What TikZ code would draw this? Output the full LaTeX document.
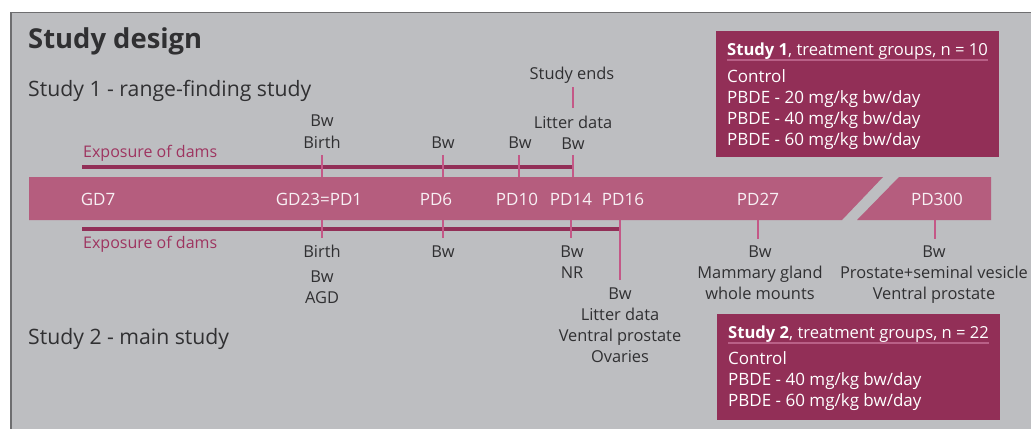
\documentclass[tikz,border=0pt]{standalone}
\usepackage{fontspec}
\setmainfont{Open Sans}
\definecolor{bgcol}{RGB}{189,190,193}
\definecolor{bordercol}{RGB}{110,110,112}
\definecolor{barcol}{RGB}{181,93,126}
\definecolor{darkmag}{RGB}{146,47,87}
\definecolor{tickcol}{RGB}{196,88,135}
\definecolor{txt}{RGB}{48,48,50}
\definecolor{bartxt}{RGB}{248,240,244}
\definecolor{expocol}{RGB}{158,52,96}
\definecolor{ulcol}{RGB}{185,96,135}
\begin{document}
\begin{tikzpicture}[x=1pt,y=-1pt,
  lbl/.style={font=\fontsize{16.4}{20}\selectfont, text=txt, inner sep=0pt, anchor=base},
  barlbl/.style={font=\fontsize{17}{20}\selectfont, text=bartxt, inner sep=0pt, anchor=base},
  boxtxt/.style={font=\fontsize{17}{20}\selectfont, text=white, inner sep=0pt, anchor=base west},
  boxtitle/.style={font=\fontsize{16.6}{20}\selectfont, text=white, inner sep=0pt, anchor=base west},
  expo/.style={font=\fontsize{16}{20}\selectfont, text=expocol, inner sep=0pt, anchor=base west},
  head/.style={font=\fontsize{21.2}{24}\selectfont, text=txt, inner sep=0pt, anchor=base west},
  tickline/.style={draw=tickcol, line width=2pt},
  expline/.style={draw=darkmag, line width=4.5pt},
  ulline/.style={draw=ulcol, line width=1.3pt},
]
\useasboundingbox (0,0) rectangle (1031,429);
\fill[white] (0,0) rectangle (1031,429);
\fill[bgcol] (10,12) rectangle (1031,429);
\draw[bordercol, line width=1.6pt] (1031,12.6) -- (10.6,12.6);
\draw[bordercol, line width=2.2pt] (10.6,12) -- (10.6,429);

% titles
\node[font=\bfseries\fontsize{27.4}{30}\selectfont, text=txt, inner sep=0pt, anchor=base west] (title) at (28,48.5) {Study design};
\node[head] (s1head) at (28,96.5) {Study 1 - range-finding study};
\node[head] (s2head) at (28,344) {Study 2 - main study};

% main time bar
\fill[barcol] (29,177) -- (883,177) -- (842,220) -- (29,220) -- cycle;
\fill[barcol] (899,177) -- (991,177) -- (991,220) -- (857,220) -- cycle;

% exposure lines
\coordinate (eu1) at (82,167); \coordinate (eu2) at (573,167);
\coordinate (el1) at (82,229); \coordinate (el2) at (620,229);
\draw[expline] (eu1) -- (eu2);
\draw[expline] (el1) -- (el2);
\node[expo] (expu) at (83,157) {Exposure of dams};
\node[expo] (expl) at (83,248) {Exposure of dams};

% bar labels
\node[barlbl] (gd7) at (98,205) {GD7};
\node[barlbl] (gd23) at (319,205) {GD23=PD1};
\node[barlbl] (pd6) at (436,205) {PD6};
\node[barlbl] (pd10) at (517,205) {PD10};
\node[barlbl] (pd14) at (571,205) {PD14};
\node[barlbl] (pd16) at (623,205) {PD16};
\node[barlbl] (pd27) at (758,205) {PD27};
\node[barlbl] (pd300) at (937,205) {PD300};

% upper ticks
\coordinate (u1a) at (322,155); \coordinate (u1b) at (322,177);
\coordinate (u2a) at (443,155); \coordinate (u2b) at (443,177);
\coordinate (u3a) at (519,155); \coordinate (u3b) at (519,177);
\coordinate (u4a) at (573,155); \coordinate (u4b) at (573,177);
\draw[tickline] (u1a) -- (u1b);
\draw[tickline] (u2a) -- (u2b);
\draw[tickline] (u3a) -- (u3b);
\draw[tickline] (u4a) -- (u4b);
\coordinate (se1) at (573,87); \coordinate (se2) at (573,108);
\draw[tickline] (se1) -- (se2);

% lower ticks
\coordinate (l1a) at (322,220); \coordinate (l1b) at (322,238);
\coordinate (l2a) at (443,220); \coordinate (l2b) at (443,238);
\coordinate (l3a) at (571,220); \coordinate (l3b) at (571,238);
\coordinate (l4a) at (620,220); \coordinate (l4b) at (620,280);
\coordinate (l5a) at (758,220); \coordinate (l5b) at (758,239);
\coordinate (l6a) at (935,220); \coordinate (l6b) at (935,239);
\draw[tickline] (l1a) -- (l1b);
\draw[tickline] (l2a) -- (l2b);
\draw[tickline] (l3a) -- (l3b);
\draw[tickline] (l4a) -- (l4b);
\draw[tickline] (l5a) -- (l5b);
\draw[tickline] (l6a) -- (l6b);

% upper labels
\node[lbl] (ubw1) at (322,126) {Bw};
\node[lbl] (ubirth) at (322,148) {Birth};
\node[lbl] (ubw2) at (443,148) {Bw};
\node[lbl] (ubw3) at (520,148) {Bw};
\node[lbl] (uend) at (572,79.5) {Study ends};
\node[lbl] (ulit) at (573,128.5) {Litter data};
\node[lbl] (ubw4) at (573,149.5) {Bw};

% lower labels
\node[lbl] (lbirth) at (322,257) {Birth};
\node[lbl] (lbw1) at (322,282) {Bw};
\node[lbl] (lagd) at (322,303) {AGD};
\node[lbl] (lbw2) at (443,257) {Bw};
\node[lbl] (lbw3) at (572,257) {Bw};
\node[lbl] (lnr) at (572,278) {NR};
\node[lbl] (lbw4) at (620,299.5) {Bw};
\node[lbl] (llit) at (620,320.5) {Litter data};
\node[lbl] (lvp) at (620,341.5) {Ventral prostate};
\node[lbl] (lov) at (620,362.5) {Ovaries};
\node[lbl] (lbw5) at (760,257.5) {Bw};
\node[lbl] (lmg) at (760,278.5) {Mammary gland};
\node[lbl] (lwm) at (760,299.5) {whole mounts};
\node[lbl] (lbw6) at (934,257.5) {Bw};
\node[lbl] (lps) at (934,278.5) {Prostate+seminal vesicle};
\node[lbl] (lvp2) at (934,299.5) {Ventral prostate};

% study 1 box
\fill[darkmag] (716,31) rectangle (999,157);
\node[boxtitle] (b1t) at (727,55) {\textbf{Study 1}, treatment groups, n = 10};
\coordinate (b1u1) at (727,60); \coordinate (b1u2) at (988,60);
\draw[ulline] (b1u1) -- (b1u2);
\node[boxtxt] (b1a) at (727,82.5) {Control};
\node[boxtxt] (b1b) at (727,103.5) {PBDE - 20 mg/kg bw/day};
\node[boxtxt] (b1c) at (727,124.5) {PBDE - 40 mg/kg bw/day};
\node[boxtxt] (b1d) at (727,145.5) {PBDE - 60 mg/kg bw/day};

% study 2 box
\fill[darkmag] (717,314) rectangle (1000,420);
\node[boxtitle] (b2t) at (728,338) {\textbf{Study 2}, treatment groups, n = 22};
\coordinate (b2u1) at (728,343); \coordinate (b2u2) at (989,343);
\draw[ulline] (b2u1) -- (b2u2);
\node[boxtxt] (b2a) at (728,364) {Control};
\node[boxtxt] (b2b) at (728,385) {PBDE - 40 mg/kg bw/day};
\node[boxtxt] (b2c) at (728,406) {PBDE - 60 mg/kg bw/day};
\end{tikzpicture}
\end{document}
